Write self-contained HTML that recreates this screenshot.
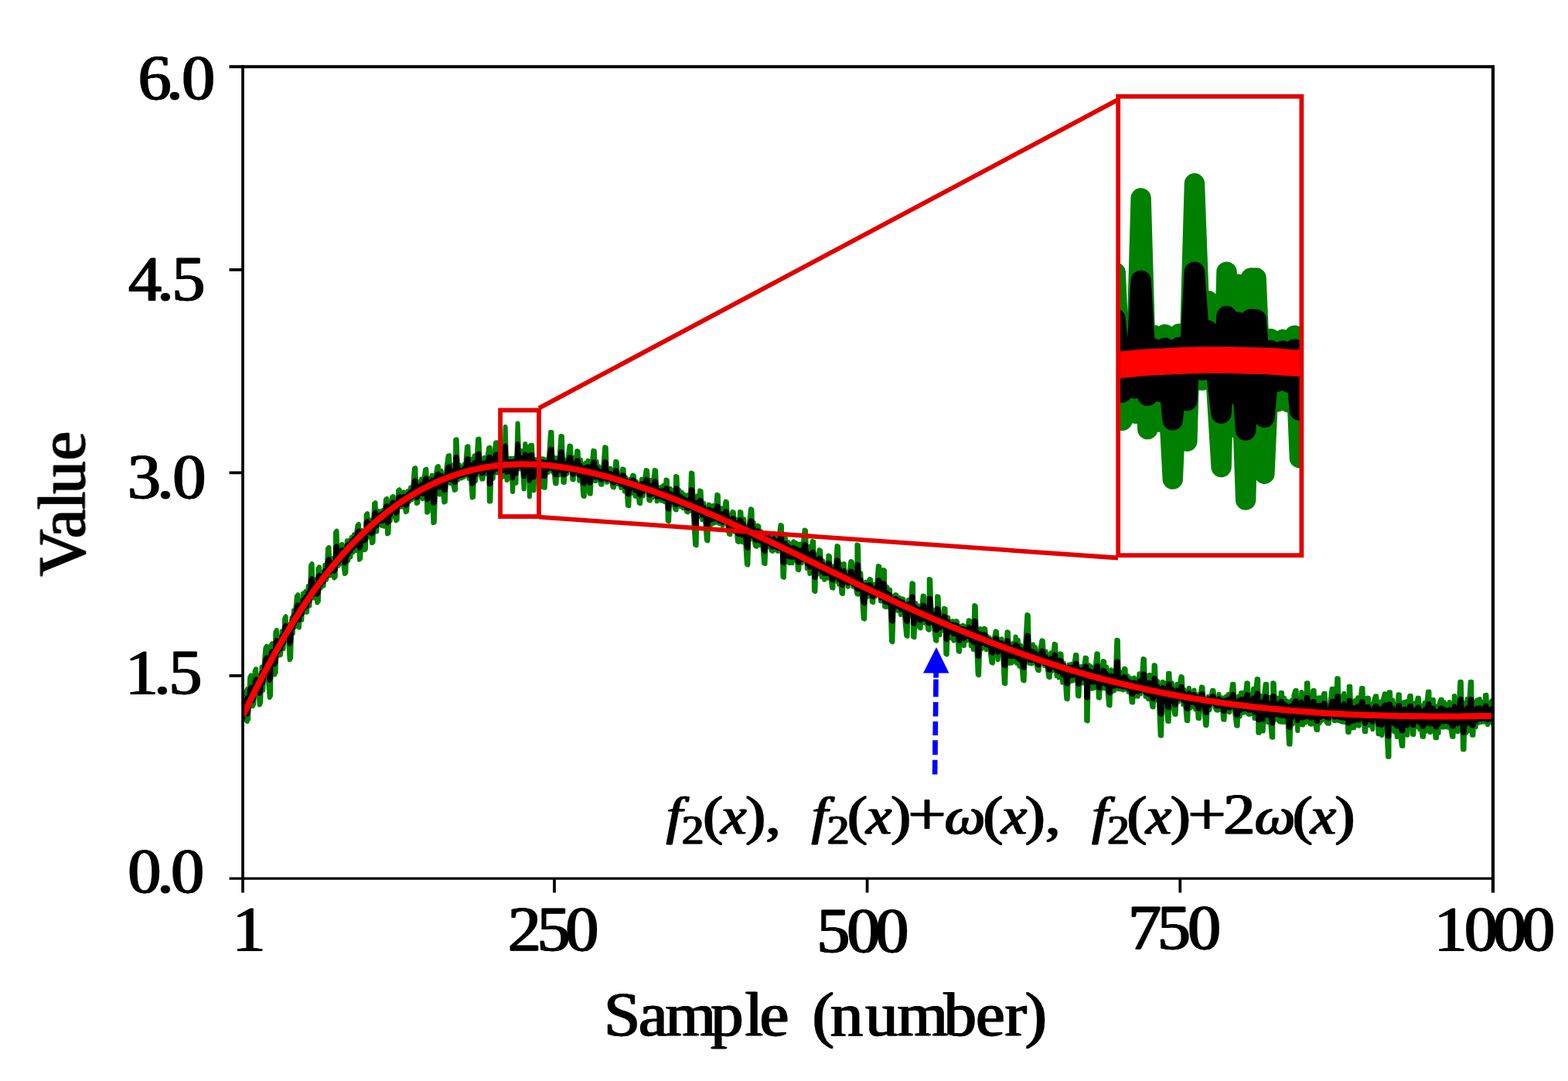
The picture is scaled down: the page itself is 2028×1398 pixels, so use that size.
<!DOCTYPE html>
<html lang="en">
<head>
<meta charset="utf-8">
<title>f2(x) with noise – Value vs Sample (number)</title>
<style>
html,body{margin:0;padding:0;background:#fff;}
body{width:2028px;height:1398px;overflow:hidden;}
svg{display:block;}
text{font-family:"Liberation Serif","DejaVu Serif",serif;fill:#000;stroke-linejoin:round;paint-order:stroke fill;}
</style>
</head>
<body>
<svg width="2028" height="1398" viewBox="0 0 2028 1398">
<defs>
<filter id="soft" x="-5%" y="-5%" width="110%" height="110%"><feGaussianBlur stdDeviation="0.45"/></filter>
<filter id="hb" x="-5%" y="-20%" width="110%" height="140%" color-interpolation-filters="sRGB"><feOffset in="SourceGraphic" dx="1.0" result="a"/><feOffset in="SourceGraphic" dx="-1.0" result="b"/><feMerge><feMergeNode in="a"/><feMergeNode in="b"/><feMergeNode in="SourceGraphic"/></feMerge></filter>
<clipPath id="pc"><rect x="314.0" y="86.2" width="1616.9" height="1050.2"/></clipPath>
<g id="cv" fill="none" stroke-linejoin="round" stroke-linecap="round">
<polyline stroke="#008000" stroke-width="6.1" points="314.0,931.6 315.7,910.6 317.4,925.5 318.5,894.0 319.7,932.9 319.9,891.1 321.1,930.0 323.2,876.2 324.6,873.4 326.8,913.3 328.2,910.5 329.7,867.9 331.1,865.2 332.3,895.5 333.4,873.0 334.5,895.5 335.7,911.5 337.1,908.8 338.6,862.6 340.2,892.6 341.8,857.7 343.4,838.3 344.8,835.6 346.7,875.8 348.7,902.0 350.1,899.4 350.5,834.7 351.9,832.1 353.5,858.4 355.2,872.4 356.4,817.5 356.6,869.8 357.8,815.0 359.5,848.4 361.2,824.0 363.0,847.2 364.7,816.2 366.5,839.1 368.2,799.7 369.6,797.3 370.9,828.4 372.2,807.4 373.4,832.7 374.7,853.3 376.1,851.0 377.4,799.0 378.7,819.4 379.9,789.3 381.2,810.9 382.5,787.5 383.8,771.5 385.2,769.3 386.9,811.4 388.6,779.8 390.3,801.8 391.9,767.5 393.6,791.9 395.3,764.8 397.0,791.7 398.7,758.0 400.4,783.4 402.1,731.2 403.5,729.2 405.2,773.4 407.0,749.4 408.7,769.1 410.4,779.4 411.6,735.2 411.8,777.5 413.0,733.3 414.8,760.8 416.7,740.1 418.5,757.8 420.3,730.8 422.2,749.6 424.0,709.7 425.4,708.0 427.1,744.5 428.8,721.7 430.6,739.3 432.3,747.4 433.7,745.7 434.1,688.4 435.5,686.7 437.2,731.9 438.9,705.6 440.7,729.1 442.4,703.9 444.2,729.1 445.9,742.0 447.3,740.4 448.8,699.4 450.3,724.7 451.8,698.9 453.4,720.2 454.9,694.8 456.4,714.4 457.9,691.3 459.4,712.2 460.9,690.6 462.5,679.4 463.9,678.0 464.8,723.6 466.2,722.2 468.0,685.9 469.8,697.2 471.5,711.2 472.9,709.9 473.7,665.5 475.1,664.2 476.6,694.5 478.1,672.0 479.6,691.6 481.1,702.3 482.5,701.1 484.1,651.4 485.5,650.2 487.2,687.5 488.9,660.9 490.5,678.2 492.2,661.4 493.9,680.0 495.6,659.7 497.2,680.7 498.9,646.1 500.3,645.0 501.1,690.4 502.5,689.3 503.7,651.1 504.8,673.3 505.9,652.1 507.1,643.1 508.5,642.1 510.4,666.5 512.2,673.3 513.6,672.3 515.2,634.2 516.6,633.3 518.0,655.8 519.3,641.6 520.7,655.5 522.1,636.2 523.5,653.5 524.8,662.1 526.2,661.2 527.8,635.0 529.5,648.6 531.1,630.5 532.7,646.1 534.3,629.1 535.9,606.0 537.3,605.2 538.9,651.0 540.3,650.2 541.9,623.3 543.5,642.2 545.1,619.5 546.8,645.1 548.4,620.9 550.0,607.4 551.4,606.7 552.2,662.8 553.6,662.1 555.3,618.7 557.0,644.6 558.7,614.7 560.4,676.1 561.8,675.4 563.7,614.4 565.5,603.7 566.9,603.1 568.8,639.5 570.7,608.7 572.6,629.9 574.4,649.4 575.8,648.8 577.7,603.7 579.6,589.6 581.0,589.1 582.7,625.0 584.4,601.4 586.1,625.9 587.8,633.8 589.2,633.3 589.2,568.8 590.6,568.4 592.5,620.1 594.4,601.4 596.3,618.5 598.1,617.5 599.5,617.1 600.7,600.3 601.8,615.7 602.9,592.6 604.0,577.7 605.4,577.3 606.8,619.2 608.1,593.3 609.4,624.2 610.7,643.4 612.1,643.0 613.6,589.3 615.1,622.0 616.6,597.0 618.1,568.0 619.5,567.7 621.4,612.9 623.3,619.6 624.7,619.4 626.6,591.8 628.4,612.7 630.3,592.2 632.2,579.1 632.9,648.5 633.6,578.8 634.3,648.3 636.0,590.9 637.7,618.9 639.4,586.4 641.1,572.4 642.5,572.2 642.5,611.4 643.9,611.3 646.0,574.2 648.0,618.4 650.2,596.5 651.8,616.3 653.6,552.0 655.6,621.0 657.4,592.9 659.0,618.8 660.8,592.7 663.1,635.9 665.0,592.5 667.4,624.6 669.6,547.6 671.8,606.4 673.6,582.6 675.9,604.3 677.6,632.3 679.2,574.0 680.9,620.4 682.6,577.7 684.9,642.1 686.5,575.8 687.3,618.5 688.0,575.8 690.5,634.3 692.3,594.0 694.2,612.8 696.0,594.2 697.8,613.0 699.5,593.0 701.0,629.6 702.6,593.4 703.3,630.5 704.7,630.7 706.5,594.5 708.4,611.4 710.3,585.8 712.1,558.9 713.5,559.0 714.7,610.3 715.8,590.9 716.9,613.2 718.1,625.3 719.5,625.5 721.0,592.1 722.5,614.5 724.0,585.5 725.5,564.0 726.9,564.2 728.4,623.8 729.8,624.0 731.5,595.0 733.2,612.9 734.9,589.3 736.6,576.6 738.0,576.9 740.3,620.1 741.7,620.4 742.8,591.8 743.9,613.2 745.1,599.0 746.2,583.3 747.6,583.5 749.3,621.6 751.0,594.5 752.7,618.9 754.3,641.6 755.7,641.9 757.4,598.7 759.0,624.9 760.6,595.8 762.3,638.2 763.7,638.6 765.6,602.1 767.4,582.9 768.8,583.2 770.2,622.2 771.6,596.9 773.0,620.8 774.3,603.0 775.7,618.1 777.1,626.4 778.5,626.7 780.4,602.8 782.3,578.4 783.7,578.8 785.1,623.8 786.6,607.0 788.1,621.3 789.6,605.9 791.1,622.3 792.6,630.0 794.0,630.4 796.3,596.9 797.7,597.3 799.6,626.1 801.5,615.6 803.3,630.8 805.2,606.5 806.6,606.9 807.9,635.5 809.2,617.4 810.6,632.9 811.9,653.7 813.3,654.2 814.6,619.9 815.9,638.3 817.2,618.1 818.5,614.7 819.9,615.1 821.6,641.6 823.3,622.9 825.0,634.9 826.7,650.7 828.1,651.2 829.9,619.8 831.8,641.4 833.7,622.0 835.6,608.0 837.0,608.5 839.3,647.0 840.7,647.5 842.2,621.0 843.7,643.6 845.2,622.8 846.7,608.0 848.1,608.5 849.7,648.3 851.4,630.2 853.1,646.8 854.8,630.1 856.4,647.8 858.1,627.7 859.8,649.1 861.5,620.5 862.9,621.1 863.7,673.7 865.1,674.2 866.7,631.9 868.4,651.4 870.0,634.3 871.7,652.1 873.3,658.8 874.1,616.1 874.7,659.4 875.5,616.6 877.0,652.2 878.6,634.0 880.2,655.0 881.8,636.7 883.4,657.1 885.0,639.6 886.5,656.1 888.1,661.8 889.5,662.4 890.7,639.9 891.8,660.9 892.9,642.3 894.0,611.6 895.4,612.2 897.3,674.7 899.2,704.7 900.6,705.3 901.8,641.3 902.9,668.7 904.0,648.2 905.2,634.6 906.6,635.2 908.4,672.3 910.3,650.7 912.2,674.4 914.0,698.8 915.4,699.4 916.9,652.6 918.4,681.4 919.9,654.6 921.4,677.3 922.9,653.9 924.4,676.3 925.9,659.5 927.4,639.7 928.8,640.4 929.6,676.6 931.0,677.2 932.9,657.4 934.7,679.8 936.6,660.9 938.5,648.6 939.9,649.2 941.4,680.1 942.9,690.6 944.3,691.3 945.8,668.5 947.4,661.9 948.8,662.6 950.1,687.6 951.4,671.3 952.7,686.2 954.0,700.3 955.4,700.9 957.0,661.9 958.4,662.6 960.3,701.2 962.1,671.3 964.0,699.2 965.9,729.9 967.3,730.5 969.2,674.5 971.0,658.2 972.4,658.9 973.6,697.1 974.7,675.8 975.8,700.4 977.0,706.2 978.4,706.8 979.9,679.7 981.3,680.4 983.0,705.0 984.7,687.5 986.4,705.5 988.1,728.4 989.5,729.1 991.1,691.3 992.8,707.2 994.4,690.5 996.1,705.1 997.7,712.1 999.1,712.8 1000.8,689.9 1002.6,711.1 1004.3,694.0 1006.1,713.0 1007.8,693.0 1009.5,679.0 1010.9,679.6 1012.5,746.1 1013.9,746.8 1015.7,694.5 1017.5,726.7 1019.3,701.0 1021.0,728.1 1022.8,703.3 1024.6,728.2 1026.4,700.4 1028.2,724.3 1030.0,702.4 1031.8,736.5 1033.2,737.2 1035.0,703.5 1036.9,728.2 1038.8,703.1 1040.6,685.6 1042.0,686.3 1043.8,735.1 1045.5,706.6 1047.3,741.9 1049.0,717.3 1050.8,700.1 1052.2,700.8 1053.0,764.3 1054.4,765.0 1055.7,718.2 1057.0,742.8 1058.3,720.0 1059.7,711.2 1061.1,711.9 1062.8,746.3 1064.5,725.6 1066.3,749.8 1068.0,729.8 1069.8,747.6 1071.5,718.6 1072.9,719.3 1074.4,746.8 1076.0,759.9 1077.4,760.6 1078.7,732.2 1080.0,751.9 1081.3,726.8 1082.6,706.0 1084.0,706.7 1085.1,755.6 1086.3,728.8 1087.4,753.2 1088.5,767.3 1089.9,768.0 1091.7,729.0 1093.4,754.2 1095.2,740.2 1096.9,758.8 1098.6,740.1 1100.4,726.0 1101.8,726.7 1103.5,758.7 1105.2,735.1 1106.8,759.7 1108.5,768.1 1108.5,704.6 1109.9,768.7 1109.9,705.2 1111.6,767.5 1113.3,741.4 1115.0,771.1 1116.7,799.9 1118.1,800.6 1119.8,752.7 1121.4,772.5 1123.1,751.8 1124.8,749.0 1126.2,749.6 1127.8,778.4 1129.2,779.1 1130.9,755.9 1132.6,771.2 1134.2,755.4 1135.9,732.0 1137.3,732.6 1139.1,777.4 1140.8,759.3 1142.6,737.1 1144.0,737.8 1144.1,784.4 1145.5,785.0 1147.3,759.0 1149.2,784.9 1151.1,762.9 1153.0,829.5 1154.4,830.2 1156.2,771.5 1158.1,769.0 1159.5,769.6 1161.4,789.9 1163.3,773.0 1165.1,794.9 1167.0,774.2 1168.4,774.8 1170.3,801.0 1172.2,822.1 1173.6,822.8 1175.1,775.8 1176.6,797.3 1178.1,778.0 1179.6,754.2 1181.0,754.8 1181.1,823.6 1182.5,824.2 1184.2,780.0 1185.9,799.9 1187.5,783.2 1189.2,811.8 1190.6,812.4 1192.2,786.4 1193.7,770.5 1195.1,771.1 1196.4,805.6 1197.7,785.9 1199.0,804.2 1200.3,814.0 1201.7,814.6 1201.8,749.0 1203.2,749.6 1204.9,805.8 1206.6,788.4 1208.3,813.3 1210.0,828.1 1211.4,828.7 1212.2,771.2 1213.6,771.8 1215.5,821.1 1217.3,794.0 1219.2,815.1 1221.1,786.8 1222.5,787.4 1223.3,845.8 1224.7,846.4 1226.2,798.6 1227.7,819.1 1229.2,803.8 1230.7,825.4 1232.1,803.3 1233.6,828.6 1235.1,805.8 1236.6,803.1 1238.0,803.7 1239.6,842.1 1241.0,842.7 1242.5,809.7 1244.0,832.1 1245.4,808.9 1246.9,835.0 1248.4,810.3 1249.9,828.8 1251.4,812.8 1252.9,802.3 1254.3,802.9 1255.8,835.2 1257.3,809.1 1258.8,839.9 1260.3,783.1 1261.7,783.7 1263.2,835.6 1264.7,872.5 1266.1,873.1 1267.8,813.1 1269.5,839.5 1271.2,817.3 1272.9,812.7 1274.3,813.3 1275.7,840.1 1277.0,822.7 1278.4,839.4 1279.8,824.8 1281.1,846.2 1282.5,857.0 1283.9,857.5 1285.8,826.3 1287.7,816.4 1289.1,817.0 1290.7,853.0 1292.3,827.1 1294.0,845.5 1295.6,826.3 1297.2,846.8 1298.8,883.6 1300.2,884.1 1302.5,817.2 1303.9,817.7 1305.5,857.8 1307.1,833.2 1308.7,857.4 1310.4,831.8 1312.0,855.2 1313.6,823.6 1315.2,857.9 1316.8,827.7 1318.4,861.6 1320.0,834.5 1321.6,863.8 1323.2,879.9 1324.6,880.4 1326.5,828.6 1328.4,795.0 1329.8,795.5 1331.4,857.6 1332.9,834.5 1334.5,858.4 1336.0,833.6 1337.6,856.8 1339.2,837.0 1340.7,860.4 1342.3,866.7 1343.7,867.1 1345.6,839.4 1347.4,828.4 1348.8,828.8 1350.7,860.7 1352.6,842.3 1354.5,863.0 1356.3,875.6 1357.7,876.0 1359.2,844.4 1360.7,867.9 1362.2,850.6 1363.7,832.8 1365.1,833.3 1366.6,874.2 1368.1,849.8 1369.6,876.3 1371.1,845.4 1372.5,845.8 1374.2,882.6 1375.9,857.4 1377.6,876.2 1379.3,903.7 1380.7,904.1 1382.4,859.5 1384.2,881.3 1385.9,858.7 1387.6,880.5 1389.4,859.0 1391.1,846.9 1392.5,847.3 1394.1,900.0 1395.5,900.4 1396.9,862.3 1398.2,880.0 1399.6,861.8 1401.0,883.5 1402.3,862.7 1403.7,850.6 1405.1,851.0 1405.2,931.9 1406.6,932.3 1408.1,860.1 1409.6,885.0 1411.1,862.0 1412.6,890.6 1414.0,864.8 1415.5,889.6 1417.0,858.8 1418.5,845.4 1419.9,845.8 1420.7,902.3 1422.1,902.6 1423.3,867.0 1424.4,890.9 1425.5,865.0 1426.7,855.1 1428.1,855.4 1429.6,890.4 1431.1,862.6 1432.6,894.3 1434.1,911.9 1435.5,912.3 1437.0,866.3 1438.5,894.7 1440.0,867.8 1441.4,893.1 1442.9,870.1 1444.4,827.7 1445.8,828.0 1447.1,891.3 1448.5,868.7 1449.8,889.0 1451.1,891.9 1452.5,892.3 1454.1,864.7 1455.5,865.0 1456.8,891.6 1458.2,873.7 1459.6,894.8 1460.9,876.2 1462.3,894.5 1463.7,908.2 1465.1,908.5 1466.8,876.6 1468.4,900.4 1470.1,878.8 1471.8,900.6 1473.5,871.3 1475.1,897.2 1476.8,877.3 1478.5,852.1 1479.9,852.4 1481.6,900.8 1483.4,874.1 1485.1,903.9 1486.9,872.9 1488.6,900.5 1490.3,914.1 1491.7,914.4 1492.6,860.3 1494.0,860.6 1495.6,905.8 1497.3,881.0 1499.0,910.2 1500.7,951.2 1502.1,951.5 1503.7,881.9 1505.4,906.9 1507.0,883.2 1508.7,915.9 1510.3,932.7 1511.1,870.7 1511.7,932.9 1512.5,870.9 1514.2,915.7 1515.8,883.4 1517.5,913.8 1519.2,923.8 1520.6,924.0 1522.3,884.8 1524.0,907.5 1525.7,886.0 1527.4,875.1 1528.8,875.4 1530.3,911.2 1531.8,892.1 1533.3,913.9 1534.8,931.9 1536.2,932.2 1537.8,889.7 1539.5,915.9 1541.2,894.7 1542.9,913.9 1544.5,892.5 1546.2,917.4 1547.9,898.0 1549.6,929.0 1551.0,929.2 1552.5,898.7 1554.0,888.4 1555.4,888.7 1557.3,917.4 1559.2,937.9 1560.6,938.1 1562.5,900.9 1564.3,918.3 1566.2,901.6 1568.1,892.9 1569.5,893.1 1571.4,914.2 1573.3,918.6 1574.7,918.8 1576.5,897.9 1578.4,917.7 1580.3,902.2 1582.1,930.5 1583.5,930.7 1585.3,901.1 1587.0,920.1 1588.8,897.7 1590.5,921.1 1592.2,900.1 1594.0,884.8 1595.4,884.9 1597.3,923.2 1599.2,938.6 1600.6,938.8 1602.1,900.3 1603.6,926.6 1605.0,896.1 1606.5,922.2 1608.0,895.9 1609.5,921.5 1611.0,897.3 1612.5,883.3 1613.9,883.5 1614.7,923.8 1616.1,924.0 1617.7,897.9 1619.4,923.0 1621.0,890.9 1622.6,929.0 1624.2,892.5 1625.8,878.1 1627.2,878.3 1627.3,947.5 1628.7,947.7 1630.5,900.0 1632.3,945.3 1633.7,945.5 1635.2,897.5 1636.7,884.8 1638.1,884.9 1639.8,934.2 1641.5,901.7 1643.2,935.2 1644.8,953.5 1646.2,953.6 1646.3,883.3 1647.7,883.5 1649.6,930.6 1651.5,902.5 1653.3,931.4 1655.2,933.5 1656.6,933.6 1656.7,895.9 1658.1,896.0 1659.6,933.9 1661.1,902.9 1662.6,933.9 1664.1,906.2 1665.6,934.9 1667.1,962.4 1668.5,962.5 1670.1,906.1 1671.8,936.6 1673.5,899.1 1675.2,893.0 1676.6,893.1 1678.3,944.9 1680.0,903.4 1681.6,936.9 1683.3,895.0 1685.0,937.5 1686.7,899.5 1688.3,934.6 1690.0,883.3 1691.4,883.4 1692.9,930.8 1694.5,936.5 1695.9,936.6 1698.2,893.0 1699.6,893.1 1701.1,935.4 1702.6,943.9 1704.0,944.0 1705.4,902.3 1706.7,935.2 1708.1,902.2 1709.5,931.9 1710.9,904.5 1712.2,896.7 1713.6,896.8 1715.5,933.9 1717.4,935.7 1718.8,935.8 1720.7,905.9 1722.6,890.8 1724.0,890.8 1725.5,932.0 1726.9,932.1 1729.3,877.4 1730.7,877.5 1731.8,932.3 1732.9,899.8 1734.0,931.7 1735.2,933.5 1736.6,933.6 1738.3,896.7 1739.9,934.3 1741.6,901.8 1743.3,946.9 1744.7,946.9 1744.8,887.8 1746.2,887.9 1747.9,941.6 1749.5,906.9 1751.2,941.3 1752.8,905.9 1754.5,937.9 1756.1,902.3 1757.8,938.6 1759.4,907.0 1761.1,890.0 1762.5,890.1 1764.8,946.1 1766.2,946.2 1768.5,902.6 1769.9,902.7 1771.7,938.2 1773.5,910.9 1775.3,943.0 1777.1,906.3 1778.9,900.4 1780.3,900.4 1782.6,949.1 1784.0,949.1 1785.6,907.5 1787.3,950.9 1789.0,904.6 1790.7,897.4 1792.1,897.5 1793.6,946.4 1795.1,978.7 1796.5,978.7 1796.6,895.2 1798.0,895.3 1799.8,943.9 1801.5,905.6 1803.2,946.1 1805.0,911.4 1806.7,952.9 1808.5,898.2 1809.9,898.2 1811.4,952.8 1812.9,964.6 1814.3,964.7 1815.8,908.1 1817.3,949.4 1818.8,907.2 1820.3,950.7 1821.8,909.1 1823.3,899.7 1824.7,899.7 1827.0,949.8 1828.4,949.9 1829.7,909.4 1831.0,940.1 1832.3,912.5 1833.6,902.6 1835.0,902.7 1836.2,943.1 1837.3,912.0 1838.4,939.6 1839.6,952.8 1841.0,952.8 1842.5,908.8 1844.0,945.8 1845.5,908.4 1847.0,894.5 1848.4,894.5 1849.7,947.1 1851.1,905.1 1852.5,945.5 1853.9,904.9 1855.2,940.9 1856.6,954.3 1858.0,954.3 1859.3,913.0 1860.6,947.8 1861.9,909.1 1863.3,904.9 1864.7,904.9 1866.3,940.7 1868.0,908.3 1869.7,940.1 1871.4,911.3 1873.0,940.7 1874.7,908.0 1876.4,942.8 1878.1,952.8 1879.5,952.8 1881.0,900.1 1882.5,945.5 1883.9,908.1 1885.4,946.2 1886.9,909.3 1888.4,881.9 1889.8,881.9 1892.1,969.1 1893.5,969.1 1894.9,909.0 1896.3,947.7 1897.6,904.1 1899.0,945.3 1900.4,905.4 1901.8,881.9 1903.2,881.9 1904.0,950.6 1905.4,950.6 1907.1,908.1 1908.7,940.2 1910.4,905.2 1912.1,934.9 1913.8,904.1 1915.4,934.0 1917.1,908.0 1918.8,933.6 1920.2,933.6 1921.0,899.0 1922.4,898.9 1924.1,937.0 1925.8,909.1 1927.5,933.6 1929.2,906.6 1930.9,936.0"/>
<polyline stroke="#000" stroke-width="6.1" points="314.0,928.6 315.7,916.4 317.4,922.1 318.5,905.2 319.7,923.4 319.9,902.3 321.1,920.6 323.2,891.5 324.6,888.7 326.8,906.5 328.2,903.7 329.7,880.8 331.1,878.1 332.3,892.1 333.4,879.8 334.5,889.9 335.7,896.8 337.1,894.1 338.6,869.5 340.2,883.0 341.8,864.1 343.4,852.9 344.8,850.2 346.7,868.4 348.7,879.7 350.1,877.1 350.5,844.4 351.9,841.9 353.5,853.5 355.2,859.0 356.4,830.5 356.6,856.5 357.8,828.0 359.5,843.1 361.2,829.4 363.0,839.5 364.7,822.5 366.5,832.4 368.2,811.2 369.6,808.8 370.9,823.3 372.2,811.7 373.4,823.3 374.7,832.5 376.1,830.2 377.4,803.2 378.7,812.4 379.9,796.3 381.2,806.1 382.5,793.3 383.8,784.3 385.2,782.1 386.9,801.8 388.6,784.7 390.3,794.4 391.9,775.9 393.6,786.9 395.3,772.1 397.0,784.2 398.7,766.2 400.4,777.6 402.1,750.3 403.5,748.3 405.2,769.2 407.0,756.0 408.7,764.6 410.4,768.6 411.6,745.7 411.8,766.7 413.0,743.8 414.8,756.3 416.7,744.7 418.5,752.4 420.3,737.7 422.2,745.9 424.0,724.8 425.4,723.1 427.1,740.2 428.8,727.8 430.6,735.5 432.3,738.6 433.7,736.9 434.1,708.0 435.5,706.3 437.2,727.9 438.9,713.8 440.7,724.5 442.4,710.9 444.2,722.5 445.9,728.0 447.3,726.4 448.8,705.1 450.3,716.9 451.8,703.2 453.4,713.0 454.9,699.5 456.4,708.6 457.9,696.2 459.4,705.9 460.9,694.3 462.5,687.9 463.9,686.5 464.8,708.8 466.2,707.5 468.0,688.5 469.8,693.3 471.5,699.4 472.9,698.1 473.7,675.5 475.1,674.2 476.6,688.7 478.1,676.8 479.6,685.9 481.1,690.5 482.5,689.3 484.1,663.8 485.5,662.6 487.2,680.5 488.9,666.5 490.5,674.5 492.2,665.3 493.9,674.0 495.6,663.1 497.2,673.0 498.9,655.0 500.3,653.9 501.1,676.3 502.5,675.2 503.7,655.7 504.8,666.3 505.9,655.3 507.1,650.4 508.5,649.4 510.4,660.9 512.2,663.6 513.6,662.6 515.2,643.0 516.6,642.0 518.0,652.8 519.3,645.3 520.7,651.7 522.1,641.6 523.5,649.9 524.8,653.7 526.2,652.8 527.8,639.2 529.5,645.5 531.1,636.0 532.7,643.3 534.3,634.3 535.9,622.2 537.3,621.4 538.9,643.9 540.3,643.1 541.9,629.1 543.5,638.2 545.1,626.4 546.8,638.8 548.4,626.2 550.0,619.1 551.4,618.3 552.2,646.2 553.6,645.5 555.3,623.4 557.0,635.9 558.7,620.6 560.4,650.8 561.8,650.2 563.7,619.2 565.5,613.5 566.9,612.8 568.8,630.7 570.7,614.8 572.6,625.1 574.4,634.4 575.8,633.9 577.7,611.0 579.6,603.5 581.0,603.0 582.7,620.7 584.4,608.6 586.1,620.5 587.8,624.2 589.2,623.7 589.2,591.4 590.6,591.0 592.5,616.6 594.4,606.9 596.3,615.2 598.1,614.4 599.5,614.0 600.7,605.4 601.8,612.9 602.9,601.3 604.0,593.6 605.4,593.3 606.8,614.0 608.1,600.9 609.4,616.2 610.7,625.6 612.1,625.3 613.6,598.3 615.1,614.5 616.6,601.8 618.1,587.1 619.5,586.8 621.4,609.2 623.3,612.4 624.7,612.2 626.6,598.2 628.4,608.5 630.3,598.1 632.2,591.4 632.9,626.0 633.6,591.1 634.3,625.8 636.0,597.0 637.7,610.9 639.4,594.5 641.1,587.4 642.5,587.2 642.5,606.8 643.9,606.7 646.0,588.0 648.0,610.0 650.2,599.0 651.8,608.8 653.6,576.6 655.6,611.0 657.4,596.9 659.0,609.8 660.8,596.7 663.1,618.3 665.0,596.5 667.4,612.5 669.6,574.0 671.8,603.4 673.6,591.5 675.9,602.3 677.6,616.3 679.2,587.2 680.9,610.4 682.6,589.0 684.9,621.3 686.5,588.1 687.3,609.5 688.0,588.2 690.5,617.5 692.3,597.4 694.2,606.8 696.0,597.6 697.8,607.0 699.5,597.1 701.0,615.4 702.6,597.4 703.3,616.0 704.7,616.1 706.5,598.1 708.4,606.7 710.3,594.0 712.1,580.6 713.5,580.7 714.7,606.4 715.8,596.8 716.9,608.0 718.1,614.2 719.5,614.3 721.0,597.7 722.5,609.0 724.0,594.6 725.5,584.0 726.9,584.2 728.4,614.1 729.8,614.3 731.5,599.9 733.2,609.0 734.9,597.4 736.6,591.1 738.0,591.4 740.3,613.2 741.7,613.5 742.8,599.3 743.9,610.1 745.1,603.1 746.2,595.3 747.6,595.6 749.3,614.8 751.0,601.5 752.7,613.8 754.3,625.3 755.7,625.6 757.4,604.2 759.0,617.5 760.6,603.1 762.3,624.5 763.7,624.8 765.6,606.8 767.4,597.4 768.8,597.8 770.2,617.4 771.6,605.0 773.0,617.1 774.3,608.3 775.7,616.1 777.1,620.4 778.5,620.7 780.4,609.0 782.3,597.1 783.7,597.4 785.1,620.2 786.6,611.9 788.1,619.3 789.6,611.8 791.1,620.3 792.6,624.3 794.0,624.7 796.3,608.3 797.7,608.7 799.6,623.4 801.5,618.4 803.3,626.3 805.2,614.4 806.6,614.8 807.9,629.3 809.2,620.5 810.6,628.4 811.9,639.0 813.3,639.5 814.6,622.5 815.9,632.0 817.2,622.1 818.5,620.5 819.9,621.0 821.6,634.5 823.3,625.4 825.0,631.7 826.7,639.9 828.1,640.4 829.9,625.0 831.8,636.1 833.7,626.7 835.6,620.0 837.0,620.5 839.3,640.2 840.7,640.7 842.2,627.7 843.7,639.3 845.2,629.1 846.7,622.0 848.1,622.5 849.7,642.7 851.4,634.0 853.1,642.6 854.8,634.6 856.4,643.7 858.1,634.0 859.8,645.0 861.5,631.0 862.9,631.6 863.7,658.0 865.1,658.5 866.7,637.7 868.4,647.8 870.0,639.6 871.7,648.8 873.3,652.5 874.1,631.2 874.7,653.0 875.5,631.8 877.0,649.9 878.6,641.1 880.2,651.9 881.8,643.1 883.4,653.6 885.0,645.1 886.5,653.7 888.1,656.9 889.5,657.5 890.7,646.5 891.8,657.2 892.9,648.1 894.0,633.0 895.4,633.6 897.3,665.2 899.2,680.7 900.6,681.2 901.8,649.5 902.9,663.4 904.0,653.4 905.2,646.8 906.6,647.4 908.4,666.4 910.3,656.0 912.2,668.2 914.0,680.8 915.4,681.4 916.9,658.4 918.4,673.1 919.9,660.0 921.4,671.7 922.9,660.3 924.4,671.8 925.9,663.7 927.4,654.2 928.8,654.8 929.6,673.1 931.0,673.7 932.9,664.2 934.7,675.9 936.6,666.8 938.5,661.1 939.9,661.8 941.4,677.5 942.9,683.1 944.3,683.8 945.8,672.7 947.4,669.8 948.8,670.4 950.1,683.3 951.4,675.4 952.7,683.2 954.0,690.5 955.4,691.1 957.0,672.0 958.4,672.6 960.3,692.4 962.1,677.9 964.0,692.2 965.9,708.0 967.3,708.7 969.2,681.1 971.0,673.4 972.4,674.1 973.6,693.4 974.7,683.1 975.8,695.6 977.0,698.8 978.4,699.4 979.9,686.2 981.3,686.9 983.0,699.7 984.7,691.3 986.4,700.7 988.1,712.5 989.5,713.2 991.1,694.7 992.8,703.0 994.4,695.1 996.1,702.8 997.7,706.7 999.1,707.4 1000.8,696.4 1002.6,707.4 1004.3,699.2 1006.1,709.2 1007.8,699.6 1009.5,693.0 1010.9,693.6 1012.5,727.3 1013.9,728.0 1015.7,702.3 1017.5,718.8 1019.3,706.3 1021.0,720.3 1022.8,708.4 1024.6,721.3 1026.4,707.8 1028.2,720.2 1030.0,709.7 1031.8,727.2 1033.2,727.8 1035.0,711.4 1036.9,724.2 1038.8,712.1 1040.6,703.9 1042.0,704.6 1043.8,729.4 1045.5,715.6 1047.3,733.6 1049.0,721.8 1050.8,713.6 1052.2,714.3 1053.0,746.3 1054.4,746.9 1055.7,723.9 1057.0,736.5 1058.3,725.4 1059.7,721.3 1061.1,722.0 1062.8,739.6 1064.5,729.7 1066.3,742.2 1068.0,732.7 1069.8,742.0 1071.5,727.9 1072.9,728.6 1074.4,742.8 1076.0,749.7 1077.4,750.3 1078.7,736.5 1080.0,746.6 1081.3,734.4 1082.6,724.3 1084.0,725.0 1085.1,749.7 1086.3,736.6 1087.4,749.1 1088.5,756.4 1089.9,757.1 1091.7,738.1 1093.4,751.1 1095.2,744.5 1096.9,754.2 1098.6,745.3 1100.4,738.6 1101.8,739.3 1103.5,755.7 1105.2,744.3 1106.8,757.0 1108.5,761.6 1108.5,729.9 1109.9,762.3 1109.9,730.5 1111.6,762.1 1113.3,749.4 1115.0,764.7 1116.7,779.5 1118.1,780.2 1119.8,756.6 1121.4,766.9 1123.1,757.0 1124.8,756.0 1126.2,756.6 1127.8,771.4 1129.2,772.1 1130.9,760.9 1132.6,768.9 1134.2,761.4 1135.9,750.1 1137.3,750.7 1139.1,773.5 1140.8,764.9 1142.6,754.2 1144.0,754.9 1144.1,778.2 1145.5,778.8 1147.3,766.2 1149.2,779.6 1151.1,769.0 1153.0,802.8 1154.4,803.5 1156.2,774.5 1158.1,773.7 1159.5,774.4 1161.4,785.0 1163.3,776.9 1165.1,788.3 1167.0,778.4 1168.4,779.0 1170.3,792.5 1172.2,803.5 1173.6,804.1 1175.1,781.0 1176.6,792.1 1178.1,782.8 1179.6,771.2 1181.0,771.8 1181.1,806.2 1182.5,806.9 1184.2,785.1 1185.9,795.4 1187.5,787.5 1189.2,802.1 1190.6,802.8 1192.2,790.1 1193.7,782.5 1195.1,783.1 1196.4,800.7 1197.7,791.1 1199.0,800.5 1200.3,805.7 1201.7,806.3 1201.8,773.5 1203.2,774.1 1204.9,802.6 1206.6,794.3 1208.3,807.1 1210.0,814.8 1211.4,815.4 1212.2,786.9 1213.6,787.5 1215.5,812.5 1217.3,799.4 1219.2,810.3 1221.1,796.6 1222.5,797.1 1223.3,826.5 1224.7,827.1 1226.2,803.6 1227.7,814.1 1229.2,806.8 1230.7,817.9 1232.1,807.2 1233.6,820.1 1235.1,809.0 1236.6,808.0 1238.0,808.5 1239.6,828.1 1241.0,828.7 1242.5,812.5 1244.0,824.0 1245.4,812.7 1246.9,826.1 1248.4,814.0 1249.9,823.6 1251.4,815.9 1252.9,810.9 1254.3,811.5 1255.8,827.9 1257.3,815.2 1258.8,830.9 1260.3,802.8 1261.7,803.4 1263.2,829.6 1264.7,848.4 1266.1,848.9 1267.8,819.3 1269.5,832.8 1271.2,822.1 1272.9,820.1 1274.3,820.6 1275.7,834.3 1277.0,825.9 1278.4,834.5 1279.8,827.5 1281.1,838.4 1282.5,844.1 1283.9,844.6 1285.8,829.4 1287.7,824.8 1289.1,825.3 1290.7,843.7 1292.3,831.0 1294.0,840.5 1295.6,831.2 1297.2,841.8 1298.8,860.5 1300.2,861.0 1302.5,828.0 1303.9,828.5 1305.5,848.8 1307.1,836.8 1308.7,849.2 1310.4,836.7 1312.0,848.7 1313.6,833.2 1315.2,850.6 1316.8,835.8 1318.4,853.1 1320.0,839.8 1321.6,854.7 1323.2,863.1 1324.6,863.6 1326.5,838.0 1328.4,821.5 1329.8,822.0 1331.4,853.4 1332.9,842.1 1334.5,854.3 1336.0,842.2 1337.6,854.0 1339.2,844.4 1340.7,856.3 1342.3,859.8 1343.7,860.2 1345.6,846.7 1347.4,841.5 1348.8,841.9 1350.7,858.2 1352.6,849.3 1354.5,860.0 1356.3,866.5 1357.7,867.0 1359.2,851.4 1360.7,863.4 1362.2,855.0 1363.7,846.4 1365.1,846.8 1366.6,867.5 1368.1,855.6 1369.6,869.0 1371.1,853.8 1372.5,854.3 1374.2,872.9 1375.9,860.6 1377.6,870.2 1379.3,884.2 1380.7,884.7 1382.4,862.6 1384.2,873.8 1385.9,862.8 1387.6,873.9 1389.4,863.4 1391.1,857.6 1392.5,858.0 1394.1,884.6 1395.5,885.0 1396.9,866.1 1398.2,875.2 1399.6,866.3 1401.0,877.4 1402.3,867.2 1403.7,861.3 1405.1,861.7 1405.2,902.1 1406.6,902.5 1408.1,866.7 1409.6,879.3 1411.1,868.0 1412.6,882.5 1414.0,869.8 1415.5,882.4 1417.0,867.2 1418.5,860.8 1419.9,861.1 1420.7,889.5 1422.1,889.9 1423.3,872.2 1424.4,884.3 1425.5,871.5 1426.7,866.7 1428.1,867.0 1429.6,884.7 1431.1,871.0 1432.6,887.0 1434.1,896.0 1435.5,896.4 1437.0,873.6 1438.5,888.0 1440.0,874.8 1441.4,887.6 1442.9,876.3 1444.4,855.2 1445.8,855.6 1447.1,887.4 1448.5,876.3 1449.8,886.6 1451.1,888.2 1452.5,888.5 1454.1,874.9 1455.5,875.3 1456.8,888.7 1458.2,879.9 1459.6,890.6 1460.9,881.5 1462.3,890.8 1463.7,897.8 1465.1,898.1 1466.8,882.3 1468.4,894.5 1470.1,883.8 1471.8,894.9 1473.5,880.5 1475.1,893.6 1476.8,883.8 1478.5,871.4 1479.9,871.7 1481.6,896.1 1483.4,882.9 1485.1,898.0 1486.9,882.7 1488.6,896.7 1490.3,903.7 1491.7,904.0 1492.6,877.0 1494.0,877.3 1495.6,900.1 1497.3,887.8 1499.0,902.6 1500.7,923.3 1502.1,923.6 1503.7,888.9 1505.4,901.6 1507.0,889.9 1508.7,906.4 1510.3,915.0 1511.1,884.0 1511.7,915.2 1512.5,884.3 1514.2,906.9 1515.8,890.9 1517.5,906.2 1519.2,911.4 1520.6,911.6 1522.3,892.2 1524.0,903.7 1525.7,893.1 1527.4,887.8 1528.8,888.0 1530.3,906.1 1531.8,896.6 1533.3,907.7 1534.8,916.8 1536.2,917.1 1537.8,896.0 1539.5,909.2 1541.2,898.8 1542.9,908.5 1544.5,897.9 1546.2,910.6 1547.9,901.0 1549.6,916.6 1551.0,916.8 1552.5,901.7 1554.0,896.7 1555.4,896.9 1557.3,911.4 1559.2,921.8 1560.6,922.0 1562.5,903.6 1564.3,912.5 1566.2,904.2 1568.1,900.0 1569.5,900.2 1571.4,910.9 1573.3,913.3 1574.7,913.5 1576.5,903.2 1578.4,913.2 1580.3,905.5 1582.1,919.8 1583.5,920.0 1585.3,905.4 1587.0,915.0 1588.8,903.9 1590.5,915.7 1592.2,905.3 1594.0,897.8 1595.4,898.0 1597.3,917.2 1599.2,925.0 1600.6,925.2 1602.1,906.1 1603.6,919.3 1605.0,904.1 1606.5,917.3 1608.0,904.2 1609.5,917.1 1611.0,905.1 1612.5,898.2 1613.9,898.4 1614.7,918.6 1616.1,918.8 1617.7,905.8 1619.4,918.4 1621.0,902.5 1622.6,921.6 1624.2,903.5 1625.8,896.4 1627.2,896.5 1627.3,931.2 1628.7,931.3 1630.5,907.6 1632.3,930.3 1633.7,930.5 1635.2,906.6 1636.7,900.3 1638.1,900.5 1639.8,925.2 1641.5,909.0 1643.2,925.8 1644.8,935.1 1646.2,935.2 1646.3,900.1 1647.7,900.2 1649.6,923.9 1651.5,909.9 1653.3,924.5 1655.2,925.6 1656.6,925.7 1656.7,906.8 1658.1,907.0 1659.6,926.0 1661.1,910.5 1662.6,926.1 1664.1,912.3 1665.6,926.7 1667.1,940.5 1668.5,940.7 1670.1,912.6 1671.8,927.9 1673.5,909.2 1675.2,906.2 1676.6,906.3 1678.3,932.3 1680.0,911.6 1681.6,928.4 1683.3,907.5 1685.0,928.8 1686.7,909.9 1688.3,927.5 1690.0,901.9 1691.4,902.0 1692.9,925.8 1694.5,928.7 1695.9,928.8 1698.2,907.0 1699.6,907.1 1701.1,928.4 1702.6,932.7 1704.0,932.7 1705.4,912.0 1706.7,928.4 1708.1,912.0 1709.5,926.9 1710.9,913.2 1712.2,909.4 1713.6,909.5 1715.5,928.1 1717.4,929.1 1718.8,929.1 1720.7,914.2 1722.6,906.7 1724.0,906.8 1725.5,927.4 1726.9,927.5 1729.3,900.2 1730.7,900.3 1731.8,927.7 1732.9,911.5 1734.0,927.5 1735.2,928.4 1736.6,928.5 1738.3,910.1 1739.9,929.0 1741.6,912.7 1743.3,935.3 1744.7,935.4 1744.8,905.8 1746.2,905.9 1747.9,932.8 1749.5,915.4 1751.2,932.7 1752.8,915.0 1754.5,931.1 1756.1,913.3 1757.8,931.5 1759.4,915.7 1761.1,907.3 1762.5,907.3 1764.8,935.4 1766.2,935.4 1768.5,913.7 1769.9,913.8 1771.7,931.5 1773.5,917.9 1775.3,934.0 1777.1,915.7 1778.9,912.8 1780.3,912.8 1782.6,937.2 1784.0,937.2 1785.6,916.4 1787.3,938.1 1789.0,915.0 1790.7,911.5 1792.1,911.5 1793.6,936.0 1795.1,952.2 1796.5,952.2 1796.6,910.4 1798.0,910.5 1799.8,934.8 1801.5,915.7 1803.2,935.9 1805.0,918.6 1806.7,939.4 1808.5,912.0 1809.9,912.1 1811.4,939.4 1812.9,945.3 1814.3,945.3 1815.8,917.0 1817.3,937.7 1818.8,916.7 1820.3,938.4 1821.8,917.6 1823.3,912.9 1824.7,912.9 1827.0,938.0 1828.4,938.0 1829.7,917.8 1831.0,933.1 1832.3,919.4 1833.6,914.5 1835.0,914.5 1836.2,934.7 1837.3,919.1 1838.4,933.0 1839.6,939.6 1841.0,939.6 1842.5,917.6 1844.0,936.1 1845.5,917.4 1847.0,910.4 1848.4,910.4 1849.7,936.7 1851.1,915.7 1852.5,936.0 1853.9,915.6 1855.2,933.7 1856.6,940.4 1858.0,940.4 1859.3,919.7 1860.6,937.1 1861.9,917.8 1863.3,915.6 1864.7,915.6 1866.3,933.6 1868.0,917.4 1869.7,933.2 1871.4,918.9 1873.0,933.6 1874.7,917.2 1876.4,934.6 1878.1,939.6 1879.5,939.6 1881.0,913.3 1882.5,935.9 1883.9,917.3 1885.4,936.3 1886.9,917.8 1888.4,904.1 1889.8,904.1 1892.1,947.7 1893.5,947.7 1894.9,917.7 1896.3,937.0 1897.6,915.2 1899.0,935.8 1900.4,915.8 1901.8,904.1 1903.2,904.1 1904.0,938.4 1905.4,938.4 1907.1,917.2 1908.7,933.2 1910.4,915.7 1912.1,930.5 1913.8,915.1 1915.4,930.0 1917.1,917.0 1918.8,929.8 1920.2,929.8 1921.0,912.5 1922.4,912.5 1924.1,931.5 1925.8,917.5 1927.5,929.8 1929.2,916.3 1930.9,930.9"/>
<polyline stroke="#ff0000" stroke-width="8.0" stroke-linecap="butt" points="314.0,925.6 318.0,917.4 322.0,909.2 326.0,901.2 330.0,893.2 334.0,885.4 338.0,877.6 342.0,870.0 346.0,862.5 350.0,855.0 354.0,847.7 358.0,840.5 362.0,833.5 366.0,826.5 370.0,819.7 374.0,813.0 378.0,806.4 382.0,799.9 386.0,793.6 390.0,787.4 394.0,781.3 398.0,775.4 402.0,769.6 406.0,763.9 410.0,758.4 414.0,753.0 418.0,747.7 422.0,742.5 426.0,737.4 430.0,732.5 434.0,727.7 438.0,723.0 442.0,718.4 446.0,713.9 450.0,709.5 454.0,705.2 458.0,701.0 462.0,697.0 466.0,693.0 470.0,689.1 474.0,685.3 478.0,681.6 482.0,678.0 486.0,674.5 490.0,671.1 494.0,667.8 498.0,664.6 502.0,661.5 506.0,658.4 510.0,655.5 514.0,652.6 518.0,649.8 522.0,647.2 526.0,644.6 530.0,642.0 534.0,639.6 538.0,637.3 542.0,635.0 546.0,632.8 550.0,630.7 554.0,628.7 558.0,626.7 562.0,624.8 566.0,623.0 570.0,621.3 574.0,619.7 578.0,618.1 582.0,616.6 586.0,615.2 590.0,613.8 594.0,612.5 598.0,611.3 602.0,610.2 606.0,609.1 610.0,608.1 614.0,607.1 618.0,606.3 622.0,605.4 626.0,604.7 630.0,604.0 634.0,603.4 638.0,602.8 642.0,602.3 646.0,601.9 650.0,601.5 654.0,601.1 658.0,600.9 662.0,600.7 666.0,600.5 670.0,600.4 674.0,600.3 678.0,600.3 682.0,600.4 686.0,600.5 690.0,600.6 694.0,600.8 698.0,601.1 702.0,601.3 706.0,601.7 710.0,602.1 714.0,602.5 718.0,603.0 722.0,603.5 726.0,604.0 730.0,604.6 734.0,605.3 738.0,605.9 742.0,606.6 746.0,607.4 750.0,608.2 754.0,609.0 758.0,609.9 762.0,610.7 766.0,611.7 770.0,612.6 774.0,613.6 778.0,614.6 782.0,615.7 786.0,616.7 790.0,617.8 794.0,619.0 798.0,620.1 802.0,621.3 806.0,622.5 810.0,623.7 814.0,625.0 818.0,626.3 822.0,627.6 826.0,628.9 830.0,630.2 834.0,631.6 838.0,633.0 842.0,634.4 846.0,635.8 850.0,637.3 854.0,638.7 858.0,640.2 862.0,641.7 866.0,643.2 870.0,644.8 874.0,646.3 878.0,647.9 882.0,649.5 886.0,651.1 890.0,652.8 894.0,654.4 898.0,656.1 902.0,657.7 906.0,659.4 910.0,661.1 914.0,662.8 918.0,664.6 922.0,666.3 926.0,668.1 930.0,669.8 934.0,671.6 938.0,673.4 942.0,675.2 946.0,677.0 950.0,678.9 954.0,680.7 958.0,682.5 962.0,684.4 966.0,686.2 970.0,688.1 974.0,690.0 978.0,691.9 982.0,693.8 986.0,695.7 990.0,697.6 994.0,699.5 998.0,701.4 1002.0,703.3 1006.0,705.3 1010.0,707.2 1014.0,709.1 1018.0,711.1 1022.0,713.0 1026.0,715.0 1030.0,716.9 1034.0,718.9 1038.0,720.8 1042.0,722.8 1046.0,724.8 1050.0,726.7 1054.0,728.7 1058.0,730.6 1062.0,732.6 1066.0,734.5 1070.0,736.5 1074.0,738.5 1078.0,740.4 1082.0,742.4 1086.0,744.3 1090.0,746.2 1094.0,748.2 1098.0,750.1 1102.0,752.0 1106.0,754.0 1110.0,755.9 1114.0,757.8 1118.0,759.7 1122.0,761.6 1126.0,763.5 1130.0,765.4 1134.0,767.3 1138.0,769.2 1142.0,771.0 1146.0,772.9 1150.0,774.7 1154.0,776.6 1158.0,778.4 1162.0,780.3 1166.0,782.1 1170.0,783.9 1174.0,785.7 1178.0,787.5 1182.0,789.3 1186.0,791.1 1190.0,792.9 1194.0,794.6 1198.0,796.4 1202.0,798.1 1206.0,799.9 1210.0,801.6 1214.0,803.3 1218.0,805.0 1222.0,806.7 1226.0,808.4 1230.0,810.1 1234.0,811.8 1238.0,813.4 1242.0,815.1 1246.0,816.7 1250.0,818.4 1254.0,820.0 1258.0,821.6 1262.0,823.2 1266.0,824.8 1270.0,826.3 1274.0,827.9 1278.0,829.5 1282.0,831.0 1286.0,832.5 1290.0,834.1 1294.0,835.6 1298.0,837.1 1302.0,838.6 1306.0,840.0 1310.0,841.5 1314.0,842.9 1318.0,844.4 1322.0,845.8 1326.0,847.2 1330.0,848.6 1334.0,850.0 1338.0,851.4 1342.0,852.7 1346.0,854.1 1350.0,855.4 1354.0,856.7 1358.0,858.1 1362.0,859.3 1366.0,860.6 1370.0,861.9 1374.0,863.1 1378.0,864.4 1382.0,865.6 1386.0,866.8 1390.0,868.0 1394.0,869.2 1398.0,870.3 1402.0,871.5 1406.0,872.6 1410.0,873.8 1414.0,874.9 1418.0,876.0 1422.0,877.0 1426.0,878.1 1430.0,879.1 1434.0,880.2 1438.0,881.2 1442.0,882.2 1446.0,883.2 1450.0,884.2 1454.0,885.1 1458.0,886.1 1462.0,887.0 1466.0,887.9 1470.0,888.8 1474.0,889.7 1478.0,890.6 1482.0,891.5 1486.0,892.3 1490.0,893.2 1494.0,894.0 1498.0,894.8 1502.0,895.6 1506.0,896.4 1510.0,897.2 1514.0,898.0 1518.0,898.7 1522.0,899.5 1526.0,900.2 1530.0,900.9 1534.0,901.6 1538.0,902.3 1542.0,903.0 1546.0,903.6 1550.0,904.3 1554.0,904.9 1558.0,905.6 1562.0,906.2 1566.0,906.8 1570.0,907.4 1574.0,908.0 1578.0,908.6 1582.0,909.1 1586.0,909.7 1590.0,910.2 1594.0,910.8 1598.0,911.3 1602.0,911.8 1606.0,912.3 1610.0,912.8 1614.0,913.3 1618.0,913.7 1622.0,914.2 1626.0,914.7 1630.0,915.1 1634.0,915.5 1638.0,915.9 1642.0,916.4 1646.0,916.8 1650.0,917.1 1654.0,917.5 1658.0,917.9 1662.0,918.3 1666.0,918.6 1670.0,919.0 1674.0,919.3 1678.0,919.6 1682.0,919.9 1686.0,920.2 1690.0,920.5 1694.0,920.8 1698.0,921.1 1702.0,921.4 1706.0,921.7 1710.0,921.9 1714.0,922.2 1718.0,922.4 1722.0,922.6 1726.0,922.9 1730.0,923.1 1734.0,923.3 1738.0,923.5 1742.0,923.7 1746.0,923.9 1750.0,924.1 1754.0,924.2 1758.0,924.4 1762.0,924.5 1766.0,924.7 1770.0,924.8 1774.0,925.0 1778.0,925.1 1782.0,925.2 1786.0,925.3 1790.0,925.5 1794.0,925.6 1798.0,925.7 1802.0,925.8 1806.0,925.8 1810.0,925.9 1814.0,926.0 1818.0,926.1 1822.0,926.1 1826.0,926.2 1830.0,926.2 1834.0,926.3 1838.0,926.3 1842.0,926.3 1846.0,926.4 1850.0,926.4 1854.0,926.4 1858.0,926.4 1862.0,926.4 1866.0,926.4 1870.0,926.4 1874.0,926.4 1878.0,926.4 1882.0,926.4 1886.0,926.4 1890.0,926.4 1894.0,926.3 1898.0,926.3 1902.0,926.3 1906.0,926.2 1910.0,926.2 1914.0,926.1 1918.0,926.1 1922.0,926.0 1926.0,926.0 1930.9,925.9"/>
</g>
</defs>
<rect width="2028" height="1398" fill="#fff"/>
<g filter="url(#soft)">
<g clip-path="url(#pc)"><use href="#cv"/></g>
<clipPath id="ic"><rect x="1448.6" y="127.1" width="232.4" height="588.7"/></clipPath><g clip-path="url(#ic)"><g transform="translate(1446.2,124.7) scale(4.33) translate(-646.8,-521.6)"><use href="#cv"/></g></g>
<g fill="none" stroke="#e00000" stroke-width="5.8" stroke-linejoin="miter" stroke-linecap="butt"><rect x="647.1" y="530.5" width="49.9" height="137.5"/><rect x="1446.2" y="124.7" width="237.2" height="593.5"/><path d="M697 527.9L1446 128.9M697 668.6L1446 721.5"/></g>
<g fill="#0000ff"><path d="M1211 837L1194 870.5L1227.5 870.5Z"/><path d="M1207.4 870L1214.0 870L1213.9 876.5L1207.2 876.5Z"/><path d="M1207.2 878.6L1213.8 878.6L1213.6 901.2L1207.0 901.2Z"/><path d="M1206.9 908L1213.5 908L1213.3 926.5L1206.7 926.5Z"/><path d="M1206.6 933L1213.2 933L1213.0 950.9L1206.4 950.9Z"/><path d="M1206.2 957.3L1212.9 957.3L1212.8 976.2L1206.1 976.2Z"/><path d="M1206.0 982.8L1212.6 982.8L1212.4 1001.6L1205.8 1001.6Z"/></g>
<g fill="none" stroke="#000" stroke-linecap="butt"><path d="M296.5 86.2H1933.0" stroke-width="4.0"/><path d="M296.5 1136.2H1933.0" stroke-width="3.3"/><path d="M314.0 84.2V1154.5" stroke-width="3.7"/><path d="M1931.0 84.8V1154.5" stroke-width="4.2"/></g><path d="M296.5 873.9H314.0M296.5 611.3H314.0M296.5 348.8H314.0M717.0 1136.4V1154.5M1121.6 1136.4V1154.5M1526.3 1136.4V1154.5" fill="none" stroke="#000" stroke-width="3.7"/>
</g>
<g>
<text transform="scale(1.0400,1)" y="128.4" font-size="82.30" filter="url(#hb)" stroke="#000" stroke-width="0.3"><tspan x="171.86 206.92 226.25" y="128.4">6.0</tspan></text>
<text transform="scale(1.0400,1)" y="388.4" font-size="82.30" filter="url(#hb)" stroke="#000" stroke-width="0.3"><tspan x="159.75 195.39 213.88" y="388.4">4.5</tspan></text>
<text transform="scale(1.0400,1)" y="644.5" font-size="82.30" filter="url(#hb)" stroke="#000" stroke-width="0.3"><tspan x="158.73 195.39 214.86" y="644.5">3.0</tspan></text>
<text transform="scale(1.0400,1)" y="896.6" font-size="82.30" filter="url(#hb)" stroke="#000" stroke-width="0.3"><tspan x="155.88 191.59 210.13" y="896.6">1.5</tspan></text>
<text transform="scale(1.0400,1)" y="1154.5" font-size="82.30" filter="url(#hb)" stroke="#000" stroke-width="0.3"><tspan x="159.14 195.39 212.79" y="1154.5">0.0</tspan></text>
<text transform="scale(1.0400,1)" y="1228.6" font-size="82.30" filter="url(#hb)" stroke="#000" stroke-width="0.3"><tspan x="289.05" y="1228.6">1</tspan></text>
<text transform="scale(1.0400,1)" y="1229.2" font-size="82.30" filter="url(#hb)" stroke="#000" stroke-width="0.3"><tspan x="631.62 667.92 703.42" y="1229.2">250</tspan></text>
<text transform="scale(1.0400,1)" y="1231.0" font-size="82.30" filter="url(#hb)" stroke="#000" stroke-width="0.3"><tspan x="1015.85 1053.32 1088.90" y="1231.0">500</tspan></text>
<text transform="scale(1.0400,1)" y="1227.1" font-size="82.30" filter="url(#hb)" stroke="#000" stroke-width="0.3"><tspan x="1403.14 1439.46 1477.21" y="1227.1">750</tspan></text>
<text transform="scale(1.0400,1)" y="1229.2" font-size="82.30" filter="url(#hb)" stroke="#000" stroke-width="0.3"><tspan x="1783.42 1821.25 1857.07 1892.65" y="1229.2">1000</tspan></text>
<text transform="scale(1.0400,1)" y="1338.9" font-size="81.00" filter="url(#hb)" stroke="#000" stroke-width="0.3"><tspan x="751.12 794.33 827.41 883.90 926.49 944.97" y="1338.9">Sample</tspan><tspan x="0.00" y="1338.9"> </tspan><tspan x="1010.27 1032.65 1076.11 1115.78 1173.74 1213.82 1249.71 1274.87" y="1338.9">(number)</tspan></text>
<text transform="scale(1.1000,1)" y="1078.2" font-size="70.70" filter="url(#hb)" stroke="#000" stroke-width="0.3"><tspan x="783.31" font-style="italic" font-size="67.50" y="1078.2">f</tspan><tspan x="801.66" font-size="52.00" y="1091.2">2</tspan><tspan x="826.54" y="1078.2">(</tspan><tspan x="847.68" font-style="italic" font-size="67.50" y="1078.2">x</tspan><tspan x="876.64 900.22" y="1078.2">),</tspan><tspan x="0.00" y="1078.2"> </tspan><tspan x="954.22" font-style="italic" font-size="67.50" y="1078.2">f</tspan><tspan x="972.56" font-size="52.00" y="1091.2">2</tspan><tspan x="996.27" y="1078.2">(</tspan><tspan x="1018.50" font-style="italic" font-size="67.50" y="1078.2">x</tspan><tspan x="1047.51" y="1078.2">)</tspan><tspan x="1067.64" font-size="79.00" y="1079.5">+</tspan><tspan x="1110.76" font-style="italic" font-size="67.50" y="1078.2">ω</tspan><tspan x="1155.95" y="1078.2">(</tspan><tspan x="1177.41" font-style="italic" font-size="67.50" y="1078.2">x</tspan><tspan x="1205.32 1229.18" y="1078.2">),</tspan><tspan x="0.00" y="1078.2"> </tspan><tspan x="1283.76" font-style="italic" font-size="67.50" y="1078.2">f</tspan><tspan x="1302.02" font-size="52.00" y="1091.2">2</tspan><tspan x="1325.00" y="1078.2">(</tspan><tspan x="1347.22" font-style="italic" font-size="67.50" y="1078.2">x</tspan><tspan x="1376.23" y="1078.2">)</tspan><tspan x="1396.91" font-size="79.00" y="1079.5">+</tspan><tspan x="1438.31" font-size="75.00" y="1078.2">2</tspan><tspan x="1475.17" font-style="italic" font-size="67.50" y="1078.2">ω</tspan><tspan x="1519.81" y="1078.2">(</tspan><tspan x="1540.91" font-style="italic" font-size="67.50" y="1078.2">x</tspan><tspan x="1569.64" y="1078.2">)</tspan></text>
<text transform="translate(109.0,760.0) rotate(-90) scale(1,1.0350)" font-size="84.00" filter="url(#hb)" stroke="#000" stroke-width="0.3" y="0" x="14.67 63.96 101.03 121.46 164.67">Value</text>
</g>
</svg>
</body>
</html>
